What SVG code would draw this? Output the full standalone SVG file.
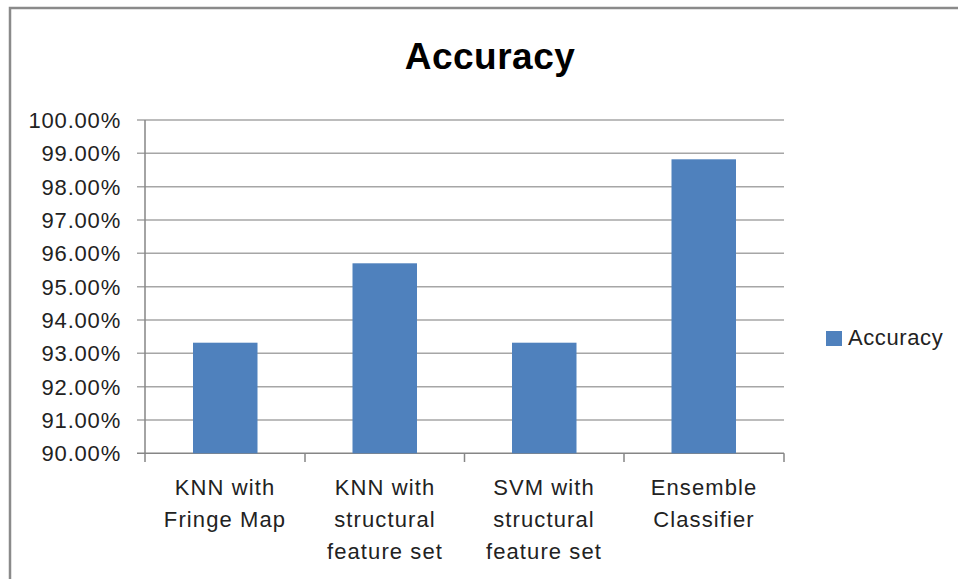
<svg xmlns="http://www.w3.org/2000/svg" width="958" height="579" viewBox="0 0 958 579">
<style>
.grid{stroke:#a6a6a6;stroke-width:1.5;fill:none}
.axis{stroke:#868686;stroke-width:1.5;fill:none}
.tl{font-family:"Liberation Sans",Arial,sans-serif;font-size:22px;fill:#222;text-anchor:end;letter-spacing:0.8px}
.cl{font-family:"Liberation Sans",Arial,sans-serif;font-size:22px;fill:#222;text-anchor:middle;letter-spacing:1.1px}
.bar{fill:#4f81bd}
</style>
<rect width="958" height="579" fill="#fff"/>
<path d="M10,579 V8 H958" stroke="#8a8a8a" stroke-width="2.5" fill="none"/>
<text x="490" y="69" font-family="Liberation Sans,Arial,sans-serif" font-weight="bold" font-size="37" text-anchor="middle" fill="#000" letter-spacing="0.5">Accuracy</text>
<g id="gridlines">
<path class="grid" d="M137,120H784M137,153.3H784M137,186.7H784M137,220H784M137,253.3H784M137,286.7H784M137,320H784M137,353.3H784M137,386.7H784M137,420H784"/>
</g>
<g id="axes">
<path class="axis" d="M145,120V453.3M137,453.3H784M145,453.3V462M305,453.3V462M464.5,453.3V462M624,453.3V462M784,453.3V462"/>
</g>
<g id="ylabels">
<text class="tl" x="121" y="128">100.00%</text>
<text class="tl" x="121" y="161.3">99.00%</text>
<text class="tl" x="121" y="194.7">98.00%</text>
<text class="tl" x="121" y="228">97.00%</text>
<text class="tl" x="121" y="261.3">96.00%</text>
<text class="tl" x="121" y="294.7">95.00%</text>
<text class="tl" x="121" y="328">94.00%</text>
<text class="tl" x="121" y="361.3">93.00%</text>
<text class="tl" x="121" y="394.7">92.00%</text>
<text class="tl" x="121" y="428">91.00%</text>
<text class="tl" x="121" y="461.3">90.00%</text>
</g>
<g id="bar1"><rect class="bar" x="193" y="342.7" width="64.5" height="110.6"/></g>
<g id="bar2"><rect class="bar" x="352.5" y="263.3" width="64.5" height="190"/></g>
<g id="bar3"><rect class="bar" x="512" y="342.7" width="64.5" height="110.6"/></g>
<g id="bar4"><rect class="bar" x="671.5" y="159.3" width="64.5" height="294"/></g>
<g id="xlabels">
<text class="cl" x="225" y="495">KNN with</text>
<text class="cl" x="225" y="527">Fringe Map</text>
<text class="cl" x="385" y="495">KNN with</text>
<text class="cl" x="385" y="527">structural</text>
<text class="cl" x="385" y="559">feature set</text>
<text class="cl" x="544" y="495">SVM with</text>
<text class="cl" x="544" y="527">structural</text>
<text class="cl" x="544" y="559">feature set</text>
<text class="cl" x="704" y="495">Ensemble</text>
<text class="cl" x="704" y="527">Classifier</text>
</g>
<g id="legend">
<rect class="bar" x="826" y="331" width="16" height="15"/>
<text x="848" y="344.5" font-family="Liberation Sans,Arial,sans-serif" font-size="22" fill="#222" letter-spacing="0.6">Accuracy</text>
</g>
</svg>
